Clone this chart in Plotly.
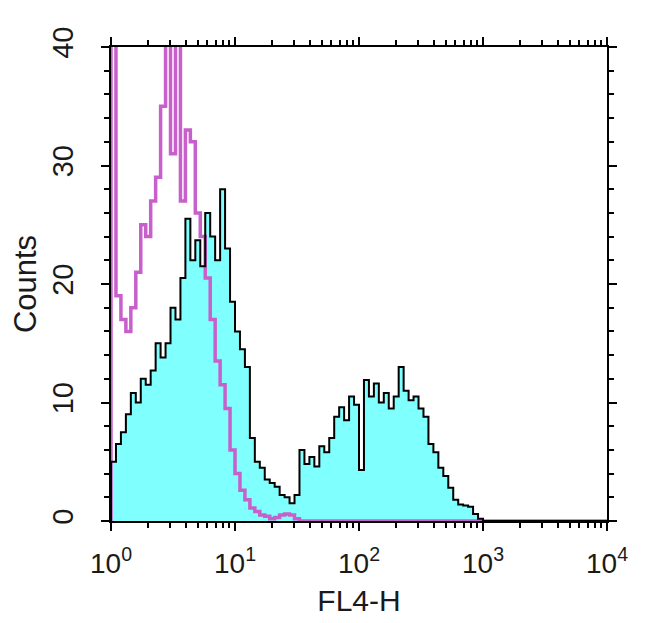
import plotly.graph_objects as go

# FL4-H histogram, 100 log-spaced channels over 4 decades (10^0 .. 10^4)
n_bins = 100
decades = 4

# isotype control (magenta outline)
control_counts = [
    42, 19, 17, 16, 18, 21, 25, 24, 27, 29,
    35, 44, 31, 45, 27, 33, 32, 26, 24, 20.5,
    17, 13.5, 11.5, 9.5, 6, 4, 2.6, 1.8, 1.1, 0.8,
    0.5, 0.4, 0.2, 0.3, 0.5, 0.6, 0.5, 0.2, 0, 0,
] + [0] * 60

# stained sample (cyan fill, black outline)
stained_counts = [
    5, 6.5, 7.5, 9, 10.8, 10, 12, 11.5, 12.7, 15,
    13.8, 15, 18, 17, 20.5, 25.5, 22, 23.7, 21.5, 26,
    24, 22, 28, 23, 18.5, 16, 14.5, 13, 7, 5,
    4.5, 3.5, 3.2, 2.9, 2.2, 2, 1.5, 2.2, 6, 4.8,
    5.4, 4.6, 6.3, 5.8, 7, 8.8, 9.6, 8.5, 10.5, 9.8,
    4.3, 11.9, 10.5, 11.6, 10, 10.8, 9.5, 10.5, 13, 11,
    10.2, 10.5, 9.5, 8.8, 6.5, 5.8, 4.5, 3.8, 2.8, 1.8,
    1.4, 1.3, 1.2, 0.6, 0.2, 0, 0, 0, 0, 0,
] + [0] * 20

x_tick_vals = [1, 10, 100, 1000, 10000]
x_tick_text = ["10<sup>0</sup>", "10<sup>1</sup>", "10<sup>2</sup>", "10<sup>3</sup>", "10<sup>4</sup>"]
y_tick_vals = [0, 10, 20, 30, 40]

# channel edges on the log scale (library then maps them)
edges = [10 ** (decades * i / n_bins) for i in range(n_bins + 1)]
# step outline: rise from zero at the first edge, hold the last value to the last edge
hx = [edges[0]] + edges
ctrl_y = [0] + control_counts + [control_counts[-1]]
stn_y = [0] + stained_counts + [stained_counts[-1]]

minor_x = [m * 10 ** d for d in range(decades) for m in range(2, 10)]
minor_y = [v for v in range(0, 41, 2) if v % 10]

fig = go.Figure()
fig.add_trace(go.Scatter(x=hx, y=stn_y, mode="lines", line_shape="hv",
                         fill="tozeroy", fillcolor="#80FFFF",
                         line=dict(width=0, color="#80FFFF"), hoverinfo="skip"))
fig.add_trace(go.Scatter(x=hx, y=ctrl_y, mode="lines", line_shape="hv",
                         line=dict(width=3.5, color="#C860CC")))
fig.add_trace(go.Scatter(x=hx, y=stn_y, mode="lines", line_shape="hv",
                         line=dict(width=2, color="black")))

fam = "Liberation Sans, Arial, sans-serif"

fig.update_layout(
    width=650, height=623,
    margin=dict(l=99, r=51, t=39, b=110),
    paper_bgcolor="white", plot_bgcolor="white",
    showlegend=False,
    xaxis=dict(type="log", range=[0, 4], showgrid=False, zeroline=False,
               showline=True, linecolor="black", linewidth=2, mirror="allticks",
               ticks="outside", ticklen=8, tickwidth=2, tickcolor="black",
               tickmode="array", tickvals=x_tick_vals, ticktext=x_tick_text,
               tickfont=dict(family=fam, size=28, color="#1a1a1a"),
               ticklabelstandoff=8,
               minor=dict(tickmode="array", tickvals=minor_x, ticks="outside",
                          ticklen=5, tickwidth=1.5, tickcolor="black"),
               title=dict(text="FL4-H", font=dict(family=fam, size=30, color="#1a1a1a"),
                          standoff=12)),
    yaxis=dict(range=[0, 40], showgrid=False, zeroline=False,
               showline=True, linecolor="black", linewidth=2, mirror="allticks",
               ticks="outside", ticklen=8, tickwidth=2, tickcolor="black",
               tickmode="array", tickvals=y_tick_vals, tickangle=-90,
               tickfont=dict(family=fam, size=29, color="#1a1a1a"), ticklabelstandoff=16,
               minor=dict(tickmode="array", tickvals=minor_y, ticks="outside",
                          ticklen=5, tickwidth=1.5, tickcolor="black"),
               title=dict(text="Counts", font=dict(family=fam, size=31, color="#1a1a1a"),
                          standoff=6)),
)

fig.write_html("out.html")
